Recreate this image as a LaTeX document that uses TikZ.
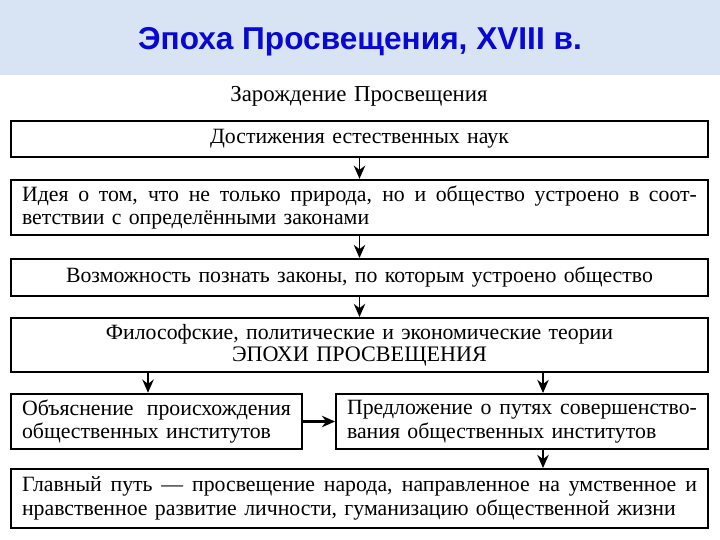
\documentclass[tikz,border=0pt]{standalone}
\usepackage{fontspec}
\setmainfont{Liberation Serif}[WordSpace=1.35]
\newfontfamily\titlefont{Liberation Sans}
\usetikzlibrary{arrows.meta}

\definecolor{bandblue}{RGB}{216,228,244}
\definecolor{titleblue}{RGB}{8,8,208}

\begin{document}
\begin{tikzpicture}[x=0.02cm, y=-0.02cm,
    frame/.style={draw=black, line width=1.1pt, fill=white, inner xsep=0.22cm,
                  font=\fontsize{12.4}{13.4}\selectfont},
    arr/.style={-{Stealth[length=7.5pt, width=6.5pt]}, line width=1.1pt}]
    \useasboundingbox (0, 0) rectangle (720, 540);
    \fill[bandblue] (0, 0) rectangle (720, 75);
    \node[font=\titlefont\bfseries\fontsize{18}{20}\selectfont, text=titleblue] (title) at (360, 42) {Эпоха Просвещения, XVIII в.};
    \node[font=\fontsize{13}{15}\selectfont] (head) at (359, 96) {Зарождение Просвещения};

    \node[frame, minimum width=13.94cm, minimum height=0.72cm] (nat) at (359.5, 139) {Достижения естественных наук};
    \node[frame, minimum width=13.94cm, minimum height=1.1cm, text width=13.5cm, align=justify] (idea) at (359.5, 207.5)
        {Идея о том, что не только природа, но и общество устроено в соот-\linebreak ветствии с определёнными законами};
    \node[frame, minimum width=13.94cm, minimum height=0.74cm] (laws) at (359.5, 277.5) {Возможность познать законы, по которым устроено общество};
    \node[frame, minimum width=13.94cm, minimum height=1.08cm, align=center] (theo) at (359.5, 345)
        {Философские, политические и экономические теории\\[-1pt]{\fontsize{12.6}{14}\selectfont ЭПОХИ ПРОСВЕЩЕНИЯ}};
    \node[frame, minimum width=5.82cm, minimum height=1.1cm, text width=5.38cm, align=justify] (expl) at (156.5, 421.5)
        {Объяснение происхождения\linebreak общественных институтов};
    \node[frame, minimum width=7.44cm, minimum height=1.1cm, text width=7cm, align=justify] (prop) at (522, 421.5)
        {Предложение о путях совершенство-\linebreak вания общественных институтов};
    \node[frame, minimum width=13.94cm, minimum height=1.18cm, text width=13.5cm, align=justify] (path) at (359.5, 498.5)
        {Главный путь — просвещение народа, направленное на умственное и\linebreak нравственное развитие личности, гуманизацию общественной жизни};

    \draw[arr] (nat) -- (idea);
    \draw[arr] (idea) -- (laws);
    \draw[arr] (laws) -- (theo);
    \draw[arr] ([xshift=-0.17cm]expl.north |- theo.south) -- ([xshift=-0.17cm]expl.north);
    \draw[arr] ([xshift=0.42cm]prop.north |- theo.south) -- ([xshift=0.42cm]prop.north);
    \draw[arr, line width=1.7pt] (expl) -- (prop);
    \draw[arr] ([xshift=0.42cm]prop.south) -- ([xshift=0.42cm]prop.south |- path.north);
\end{tikzpicture}
\end{document}
